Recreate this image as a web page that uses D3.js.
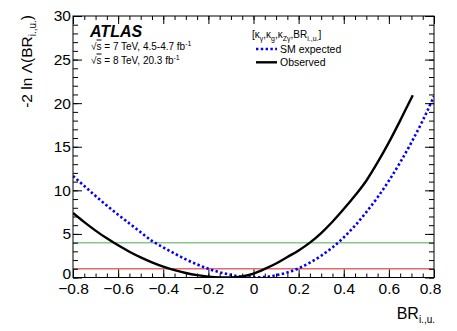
<!DOCTYPE html>
<html><head><meta charset="utf-8">
<script src="https://cdn.jsdelivr.net/npm/d3@7"></script>
<style>
body{margin:0;background:#fff}
text{font-family:"Liberation Sans",Arial,Helvetica,sans-serif;fill:#000}
</style>
</head><body>
<svg id="c" width="457" height="331"></svg>
<script>
// ---- data ----
const obsX = [-0.8,-0.75,-0.7,-0.65,-0.6,-0.55,-0.5,-0.45,-0.4,-0.35,-0.3,-0.25,-0.2,-0.15,-0.12,-0.1,-0.05,0,0.05,0.1,0.15,0.2,0.25,0.3,0.35,0.4,0.45,0.5,0.55,0.6,0.65,0.7,0.706];
const obsY = [7.4,6.35,5.38,4.49,3.69,2.96,2.31,1.74,1.25,0.85,0.52,0.27,0.1,0.01,0,0.01,0.13,0.45,0.98,1.6,2.35,3.1,4.0,5.1,6.4,7.85,9.4,11.1,13.2,15.5,18.0,20.6,20.9];
const expX = [-0.8,-0.75,-0.7,-0.65,-0.6,-0.55,-0.5,-0.45,-0.4,-0.35,-0.3,-0.25,-0.2,-0.15,-0.1,-0.05,0,0.05,0.1,0.15,0.2,0.25,0.3,0.35,0.4,0.45,0.5,0.55,0.6,0.65,0.7,0.75,0.8];
const expY = [11.65,10.5,9.35,8.25,7.2,6.2,5.2,4.2,3.45,2.75,2.08,1.5,1.0,0.6,0.3,0.09,0.0,0.06,0.25,0.58,1.05,1.7,2.5,3.45,4.6,5.95,7.5,9.2,11.1,13.2,15.5,18.0,20.8];
const refLevels = [4, 1];
const refColors = ["#86c986", "#e26a6a"];
const xTicks = [-0.8,-0.6,-0.4,-0.2,0,0.2,0.4,0.6,0.8];
const xTickLabels = ["\u22120.8","\u22120.6","\u22120.4","\u22120.2","0","0.2","0.4","0.6","0.8"];
const xMinor = d3.range(-0.8, 0.8001, 0.05).map(v => +v.toFixed(2));
const yTicks = [0,5,10,15,20,25,30];
const yMinor = d3.range(0, 31, 1);

// ---- layout ----
const L = 73, R = 434, T = 16, B = 277.5;
const svg = d3.select("#c");
const x = d3.scaleLinear().domain([-0.8, 0.8]).range([L, R]);
const y = d3.scaleLinear().domain([0, 30]).range([B, T]);

svg.append("defs").append("clipPath").attr("id","clip")
  .append("rect").attr("x",L).attr("y",T).attr("width",R-L).attr("height",B-T);

const plot = svg.append("g").attr("clip-path","url(#clip)");

refLevels.forEach((lv,i) => {
  plot.append("line").attr("x1",L).attr("x2",R).attr("y1",y(lv)).attr("y2",y(lv))
    .attr("stroke",refColors[i]).attr("stroke-width",1.5);
});

const line = d3.line().x(d=>x(d[0])).y(d=>y(d[1])).curve(d3.curveMonotoneX);
plot.append("path").datum(expX.map((v,i)=>[v,expY[i]])).attr("d",line)
  .attr("fill","none").attr("stroke","#0000ff").attr("stroke-width",2.6).attr("stroke-dasharray","2.4,2.4");
plot.append("path").datum(obsX.map((v,i)=>[v,obsY[i]])).attr("d",line)
  .attr("fill","none").attr("stroke","#000").attr("stroke-width",2.4);

// axes
function styleAxis(g){ g.select(".domain").remove(); g.selectAll("line").attr("stroke","#000"); }
const fs = "15.5px";
svg.append("g").attr("transform",`translate(0,${B})`)
  .call(d3.axisBottom(x).tickValues(xTicks).tickSize(-8).tickPadding(5).tickFormat((d,i)=>xTickLabels[i]))
  .call(styleAxis)
  .call(g=>g.selectAll("text").attr("font-size",fs).attr("font-family","Liberation Sans, Arial, sans-serif").attr("fill","#000"))
  .call(g=>g.selectAll(".tick:last-of-type text").attr("dx",-4));
svg.append("g").attr("transform",`translate(0,${B})`)
  .call(d3.axisBottom(x).tickValues(xMinor).tickSize(-4).tickFormat("")).call(styleAxis);
svg.append("g").attr("transform",`translate(0,${T})`)
  .call(d3.axisTop(x).tickValues(xTicks).tickSize(-8).tickFormat("")).call(styleAxis);
svg.append("g").attr("transform",`translate(0,${T})`)
  .call(d3.axisTop(x).tickValues(xMinor).tickSize(-4).tickFormat("")).call(styleAxis);

svg.append("g").attr("transform",`translate(${L},0)`)
  .call(d3.axisLeft(y).tickValues(yTicks).tickSize(-9).tickPadding(2).tickFormat(d3.format("d")))
  .call(styleAxis)
  .call(g=>g.selectAll("text").attr("font-size",fs).attr("font-family","Liberation Sans, Arial, sans-serif").attr("fill","#000"))
  .call(g=>g.selectAll(".tick:first-of-type text").attr("dy","0.05em"));
svg.append("g").attr("transform",`translate(${L},0)`)
  .call(d3.axisLeft(y).tickValues(yMinor).tickSize(-5).tickFormat("")).call(styleAxis);
svg.append("g").attr("transform",`translate(${R},0)`)
  .call(d3.axisRight(y).tickValues(yTicks).tickSize(-9).tickFormat("")).call(styleAxis);
svg.append("g").attr("transform",`translate(${R},0)`)
  .call(d3.axisRight(y).tickValues(yMinor).tickSize(-5).tickFormat("")).call(styleAxis);

svg.append("rect").attr("x",L).attr("y",T).attr("width",R-L).attr("height",B-T)
  .attr("fill","none").attr("stroke","#000").attr("stroke-width",1);

// axis titles
const xt = svg.append("text").attr("x",435).attr("y",318.5).attr("text-anchor","end").attr("font-size","16px");
xt.append("tspan").text("BR");
xt.append("tspan").attr("font-size","10px").attr("dy",4).text("i.,u.");

const yt = svg.append("text").attr("transform","translate(31.5,15) rotate(-90)")
  .attr("text-anchor","end").attr("font-size","15.5px");
yt.append("tspan").text("-2 ln \u039B(BR");
yt.append("tspan").attr("font-size","10px").attr("dy",4).text("i.,u.");
yt.append("tspan").attr("dy",-4).text(")");

// ATLAS label
svg.append("text").attr("x",90).attr("y",37).attr("font-size","16px")
  .attr("font-weight","bold").attr("font-style","italic").text("ATLAS");
const lumi = [["7 TeV, 4.5-4.7 fb", 49.5], ["8 TeV, 20.3 fb", 63.5]];
lumi.forEach(([t,yy]) => {
  const tx = svg.append("text").attr("x",91).attr("y",yy).attr("font-size","10px");
  tx.append("tspan").text("\u221A");
  tx.append("tspan").attr("text-decoration","overline").text("s");
  tx.append("tspan").text(" = " + t);
  tx.append("tspan").attr("font-size","7px").attr("dy",-4).text("-1");
});

// legend
const hd = svg.append("text").attr("x",252).attr("y",38).attr("font-size","10px");
[["[\u03BA",0],["\u03B3",1],[",\u03BA",2],["g",1],[",\u03BA",2],["Z\u03B3",1],[",BR",2],["i.,u.",1],["]",2]].forEach(([t,k])=>{
  const s = hd.append("tspan").text(t);
  if (k===1) s.attr("font-size","7px").attr("dy",2.5);
  if (k===2) s.attr("dy",-2.5);
});
const legend = [["SM expected","#0000ff","2.4,2.4",49,52.5],["Observed","#000",null,62.3,66]];
legend.forEach(([lab,col,dash,ly,ty])=>{
  const l = svg.append("line").attr("x1",256).attr("x2",277).attr("y1",ly).attr("y2",ly)
    .attr("stroke",col).attr("stroke-width",2.4);
  if (dash) l.attr("stroke-dasharray",dash);
  svg.append("text").attr("x",280).attr("y",ty).attr("font-size","10.5px").text(lab);
});
</script>
</body></html>
